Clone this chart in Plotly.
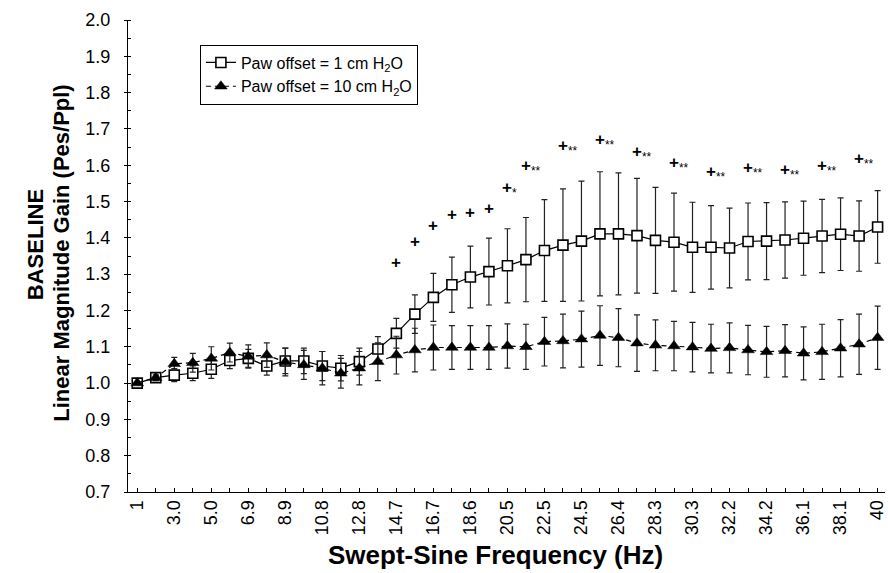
import plotly.graph_objects as go

# --- data -------------------------------------------------------------
freq_hz = ["1", "2.0", "3.0", "3.9", "5.0", "5.9", "6.9", "7.8", "8.9", "9.8",
           "10.8", "11.7", "12.8", "13.7", "14.7", "15.6", "16.7", "17.6", "18.6", "19.5",
           "20.5", "21.5", "22.5", "23.4", "24.5", "25.4", "26.4", "27.3", "28.3", "29.3",
           "30.3", "31.2", "32.2", "33.2", "34.2", "35.1", "36.1", "37.1", "38.1", "39.0", "40"]
tick_labels = ["1", "3.0", "5.0", "6.9", "8.9", "10.8", "12.8", "14.7", "16.7", "18.6",
               "20.5", "22.5", "24.5", "26.4", "28.3", "30.3", "32.2", "34.2", "36.1", "38.1", "40"]

gain_1cm = [1.000, 1.015, 1.022, 1.027, 1.038, 1.062, 1.068, 1.047, 1.061, 1.061,
            1.047, 1.041, 1.059, 1.094, 1.137, 1.190, 1.236, 1.271, 1.292, 1.307,
            1.323, 1.340, 1.365, 1.380, 1.391, 1.411, 1.411, 1.406, 1.393, 1.388,
            1.374, 1.374, 1.372, 1.390, 1.391, 1.394, 1.399, 1.405, 1.410, 1.405, 1.430]
err_1cm = [0.000, 0.008, 0.018, 0.020, 0.025, 0.022, 0.025, 0.025, 0.035, 0.035,
           0.040, 0.035, 0.037, 0.034, 0.041, 0.053, 0.066, 0.076, 0.085, 0.092,
           0.102, 0.116, 0.140, 0.155, 0.165, 0.171, 0.168, 0.158, 0.146, 0.135,
           0.124, 0.115, 0.110, 0.106, 0.106, 0.105, 0.102, 0.101, 0.100, 0.097, 0.100]

gain_10cm = [1.000, 1.015, 1.053, 1.056, 1.068, 1.084, 1.073, 1.077, 1.058, 1.050,
             1.041, 1.027, 1.041, 1.059, 1.077, 1.091, 1.098, 1.098, 1.098, 1.098,
             1.102, 1.100, 1.114, 1.116, 1.121, 1.131, 1.125, 1.110, 1.104, 1.102,
             1.099, 1.095, 1.097, 1.091, 1.086, 1.089, 1.082, 1.086, 1.096, 1.107, 1.125]
err_10cm = [0.000, 0.008, 0.018, 0.026, 0.032, 0.026, 0.032, 0.034, 0.038, 0.040,
            0.046, 0.041, 0.046, 0.052, 0.052, 0.060, 0.062, 0.060, 0.060, 0.060,
            0.061, 0.062, 0.067, 0.074, 0.077, 0.082, 0.080, 0.078, 0.070, 0.068,
            0.068, 0.067, 0.069, 0.068, 0.070, 0.072, 0.073, 0.076, 0.079, 0.083, 0.087]

# significance marks (+ : vs baseline ; * / ** : between offsets)
sig_hz = ["14.7", "15.6", "16.7", "17.6", "18.6", "19.5", "20.5", "21.5", "23.4", "25.4",
          "27.3", "29.3", "31.2", "33.2", "35.1", "37.1", "39.0"]
sig_y = [1.332, 1.390, 1.434, 1.465, 1.469, 1.482, 1.535, 1.596, 1.651, 1.667,
         1.635, 1.604, 1.578, 1.589, 1.584, 1.596, 1.615]
sig_stars = ["", "", "", "", "", "", "*", "**", "**", "**",
             "**", "**", "**", "**", "**", "**", "**"]

FONT = "Liberation Sans, Arial, sans-serif"

# evenly spaced sweep steps: position of each frequency on the axis
pos = {f: i for i, f in enumerate(freq_hz)}
x_pos = [pos[f] for f in freq_hz]

fig = go.Figure()

fig.add_trace(go.Scatter(
    x=x_pos, y=gain_1cm, name="Paw offset = 1 cm H<sub>2</sub>O",
    customdata=freq_hz, hovertemplate="%{customdata} Hz: %{y}<extra></extra>",
    mode="lines+markers",
    line=dict(color="black", width=1.2),
    marker=dict(symbol="square", size=10, color="white", line=dict(color="black", width=1.6)),
    error_y=dict(type="data", array=err_1cm, visible=True, color="#222", thickness=1.2, width=3),
))
fig.add_trace(go.Scatter(
    x=x_pos, y=gain_10cm, name="Paw offset = 10 cm H<sub>2</sub>O",
    customdata=freq_hz, hovertemplate="%{customdata} Hz: %{y}<extra></extra>",
    mode="lines+markers",
    line=dict(color="black", width=1.2, dash="5px,4px"),
    marker=dict(symbol="triangle-up", size=11, color="black", line=dict(color="black", width=0.5)),
    error_y=dict(type="data", array=err_10cm, visible=True, color="#222", thickness=1.2, width=3),
))

annotations = []
for f, yv, s in zip(sig_hz, sig_y, sig_stars):
    txt = "<b>+</b>" + (f"<sub>{s}</sub>" if s else "")
    annotations.append(dict(x=pos[f], y=yv, xref="x", yref="y", text=txt, showarrow=False,
                            xanchor="left", yanchor="middle", xshift=-7,
                            font=dict(family=FONT, size=17, color="black")))

annotations += [
    dict(x=-0.1229, y=0.525, xref="paper", yref="paper", text="<b>BASELINE</b>",
         textangle=-90, showarrow=False, xanchor="center", yanchor="middle",
         font=dict(family=FONT, size=22, color="black")),
    dict(x=-0.0872, y=0.507, xref="paper", yref="paper",
         text="<b>Linear Magnitude Gain (Pes/Ppl)</b>",
         textangle=-90, showarrow=False, xanchor="center", yanchor="middle",
         font=dict(family=FONT, size=22, color="black")),
    dict(x=0.486, y=-0.1335, xref="paper", yref="paper",
         text="<b>Swept-Sine Frequency (Hz)</b>", showarrow=False,
         xanchor="center", yanchor="middle",
         font=dict(family=FONT, size=26, color="black")),
]

fig.update_layout(
    width=888, height=573,
    margin=dict(l=128, r=3, t=20, b=81),
    paper_bgcolor="white", plot_bgcolor="white",
    font=dict(family=FONT, size=18, color="black"),
    showlegend=True,
    legend=dict(x=0.095, y=0.948, xanchor="left", yanchor="top",
                bgcolor="white", bordercolor="black", borderwidth=1,
                font=dict(family=FONT, size=16, color="black"),
                tracegroupgap=0),
    annotations=annotations,
    xaxis=dict(range=[-0.5, 40.4], tickmode="array",
               tickvals=x_pos[::2], ticktext=tick_labels, tickangle=-90,
               ticks="inside", ticklen=4, tickcolor="black",
               minor=dict(tickmode="linear", tick0=0, dtick=1, ticks="inside",
                          ticklen=4, tickcolor="black"),
               showline=True, linecolor="black", linewidth=1.2,
               showgrid=False, zeroline=False, automargin=False,
               tickfont=dict(family=FONT, size=18, color="black")),
    yaxis=dict(range=[0.7, 2.0], dtick=0.1, tick0=0.7, tickformat=".1f",
               ticks="outside", ticklen=3, tickcolor="black",
               minor=dict(dtick=0.05, ticks="inside", ticklen=3, tickcolor="black"),
               showline=True, linecolor="black", linewidth=1.2,
               showgrid=False, zeroline=False, ticklabelstandoff=10, automargin=False,
               tickfont=dict(family=FONT, size=18, color="black")),
)

# remove the browser's default 8px page margin so the figure fills the window exactly
fig.write_html("out.html", config={"displayModeBar": False},
               post_script="document.body.style.margin='0';document.body.style.overflow='hidden';")
